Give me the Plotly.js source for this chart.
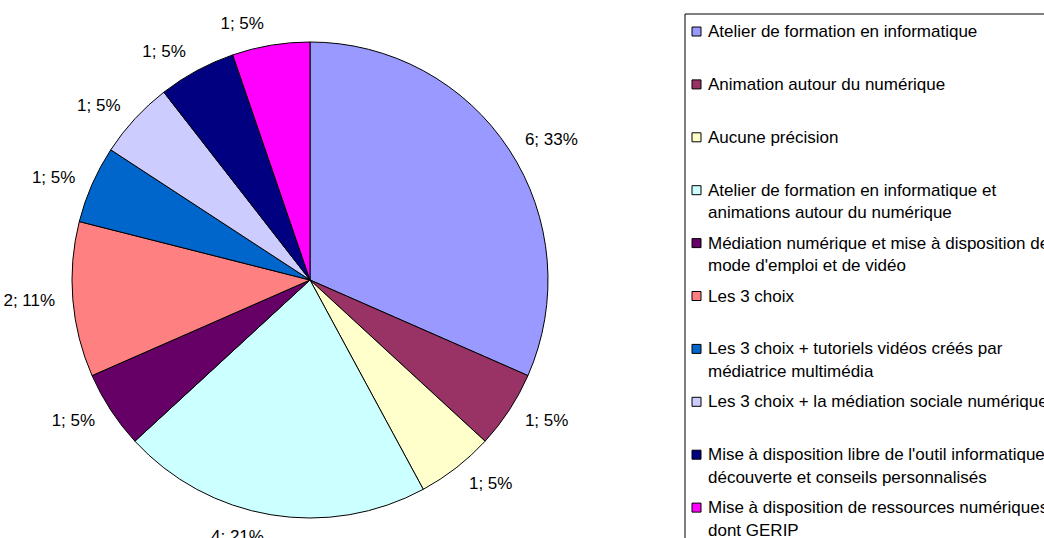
<!DOCTYPE html>
<html>
<head>
<meta charset="utf-8">
<script src="https://cdn.plot.ly/plotly-3.0.1.min.js"></script>
<style>html,body{margin:0;padding:0;background:#fff;}#chart{width:1044px;height:538px;}</style>
</head>
<body>
<div id="chart"></div>
<script>
// ---- data ----
const categories = [
  "Atelier de formation en informatique",
  "Animation autour du numérique",
  "Aucune précision",
  "Atelier de formation en informatique et animations autour du numérique",
  "Médiation numérique et mise à disposition de mode d'emploi et de vidéo",
  "Les 3 choix",
  "Les 3 choix + tutoriels vidéos créés par médiatrice multimédia",
  "Les 3 choix + la médiation sociale numérique",
  "Mise à disposition libre de l'outil informatique, découverte et conseils personnalisés",
  "Mise à disposition de ressources numériques dont GERIP"
];
const values = [6, 1, 1, 4, 1, 2, 1, 1, 1, 1];
const percentLabels = ["33%", "5%", "5%", "21%", "5%", "11%", "5%", "5%", "5%", "5%"];
const legendLines = [
  ["Atelier de formation en informatique"],
  ["Animation autour du numérique"],
  ["Aucune précision"],
  ["Atelier de formation en informatique et", "animations autour du numérique"],
  ["Médiation numérique et mise à disposition de", "mode d'emploi et de vidéo"],
  ["Les 3 choix"],
  ["Les 3 choix + tutoriels vidéos créés par", "médiatrice multimédia"],
  ["Les 3 choix + la médiation sociale numérique"],
  ["Mise à disposition libre de l'outil informatique,", "découverte et conseils personnalisés"],
  ["Mise à disposition de ressources numériques", "dont GERIP"]
];
const colors = ["#9999FF", "#993366", "#FFFFCC", "#CCFFFF", "#660066",
                "#FF8080", "#0066CC", "#CCCCFF", "#000080", "#FF00FF"];

// ---- layout helpers ----
const W = 1044, H = 538;
const px = x => x / W;
const py = y => 1 - y / H;
const FONT = "Arial, 'Liberation Sans', sans-serif";

const pieText = values.map((v, i) => v + "; " + percentLabels[i]);

// visible pie (no text)
const pieTrace = {
  type: "pie",
  labels: categories,
  values: values,
  textinfo: "none",
  sort: false,
  direction: "clockwise",
  rotation: 0,
  marker: { colors: colors, line: { color: "#000000", width: 1 } },
  hoverinfo: "none",
  showlegend: false,
  domain: { x: [px(72), px(548)], y: [py(518), py(42)] }
};

// transparent, slightly larger pie that only carries the outside data labels
const labelTrace = {
  type: "pie",
  labels: categories,
  values: values,
  text: pieText,
  textinfo: "text",
  textposition: "outside",
  sort: false,
  direction: "clockwise",
  rotation: 0,
  marker: { colors: categories.map(() => "rgba(0,0,0,0)"), line: { width: 0 } },
  outsidetextfont: { family: FONT, size: 17, color: "#000000" },
  textfont: { family: FONT, size: 17, color: "#000000" },
  hoverinfo: "none",
  showlegend: false,
  domain: { x: [px(59), px(561)], y: [py(531), py(29)] }
};

const shapes = [{
  type: "rect", xref: "paper", yref: "paper",
  x0: px(685), x1: px(1060), y0: py(560), y1: py(14),
  line: { color: "#000000", width: 1 }, fillcolor: "rgba(0,0,0,0)"
}];
const annotations = [];
const step = 52.9, top0 = 31.5, lineGap = 22.5;
legendLines.forEach((lines, i) => {
  const yc = top0 + step * i;
  shapes.push({
    type: "rect", xref: "paper", yref: "paper",
    x0: px(692), x1: px(701), y0: py(yc + 4.5), y1: py(yc - 4.5),
    line: { color: "#000000", width: 1 }, fillcolor: colors[i]
  });
  lines.forEach((t, j) => {
    annotations.push({
      xref: "paper", yref: "paper", x: px(706), y: py(yc + j * lineGap),
      xanchor: "left", yanchor: "middle", showarrow: false, text: t,
      font: { family: FONT, size: 17, color: "#000000" }
    });
  });
});

const layout = {
  width: W, height: H,
  margin: { l: 0, r: 0, t: 0, b: 0 },
  paper_bgcolor: "#ffffff",
  plot_bgcolor: "#ffffff",
  showlegend: false,
  shapes: shapes,
  annotations: annotations
};

Plotly.newPlot("chart", [pieTrace, labelTrace], layout, { staticPlot: true, displayModeBar: false });
</script>
</body>
</html>
